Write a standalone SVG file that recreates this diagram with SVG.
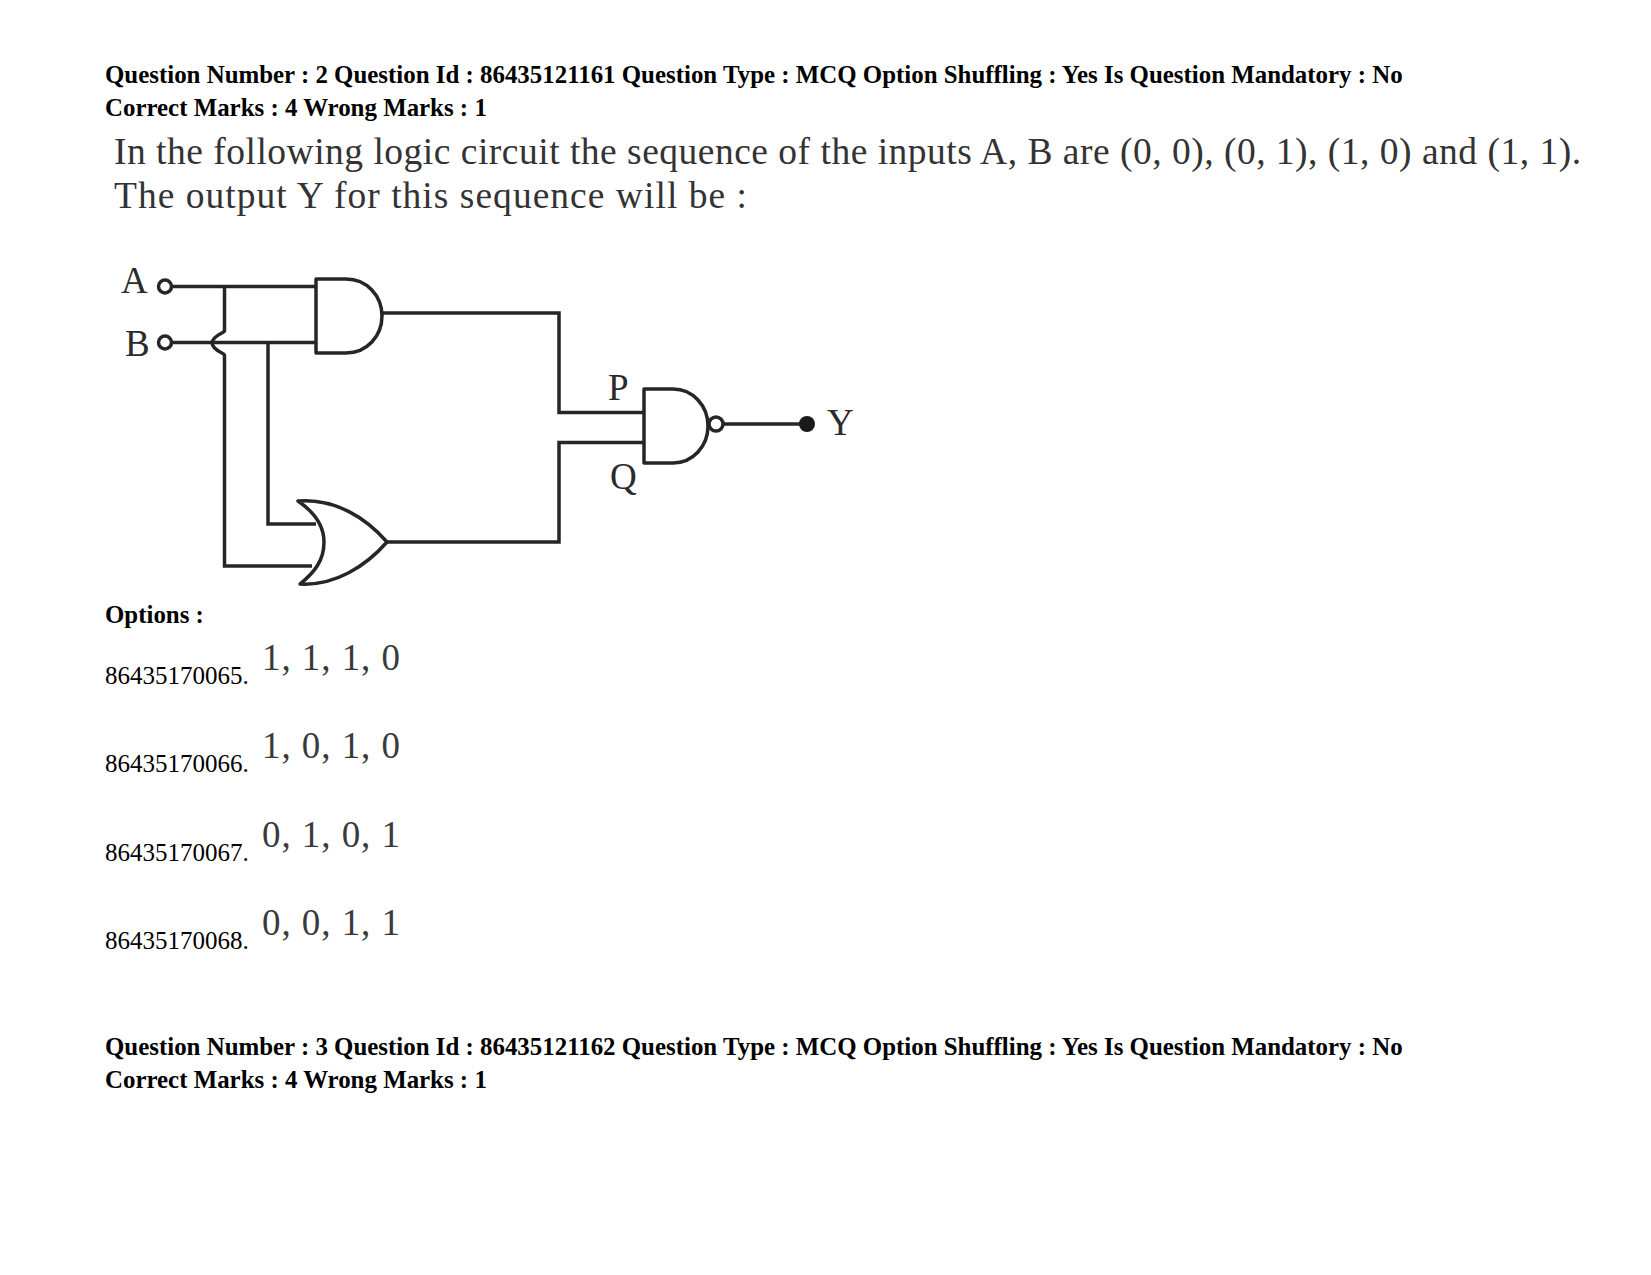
<svg xmlns="http://www.w3.org/2000/svg" width="1651" height="1275" viewBox="0 0 1651 1275">
<style>
text{font-family:"Liberation Serif","Times New Roman",serif}
.h{font-size:24.9px;font-weight:bold;fill:#000}
.o{font-size:25px;fill:#000}
.q{font-size:37.5px;fill:#333}
.v{font-size:37px;fill:#3a3a3a}
.l{font-size:37px;fill:#2b2b2b}
.w{fill:none;stroke:#262626;stroke-width:3.5}
.b{fill:#fff;stroke:#262626;stroke-width:3.5;stroke-linejoin:round}
</style>
<rect width="1651" height="1275" fill="#fff"/>
<g id="question-2">
<text class="h" x="105" y="82.500">Question Number : 2 Question Id : 86435121161 Question Type : MCQ Option Shuffling : Yes Is Question Mandatory : No</text>
<text class="h" x="105" y="116">Correct Marks : 4 Wrong Marks : 1</text>
<text class="q" x="114" y="164" textLength="1467">In the following logic circuit the sequence of the inputs A, B are (0, 0), (0, 1), (1, 0) and (1, 1).</text>
<text class="q" x="114" y="208" textLength="633">The output Y for this sequence will be :</text>
</g>
<g id="connectors">
<path class="w" d="M172 286.500H316"/>
<path class="w" d="M172 342.500H316"/>
<path class="w" d="M224.500 286.500V331C224.500 333 213 335 212 343C213 351 224.500 353 224.500 355V566H312"/>
<path class="w" d="M268 343V524H316"/>
<path class="w" d="M383 313H559V412.500H644"/>
<path class="w" d="M387 542H559V442.500H644"/>
<path class="w" d="M723 424H800"/>
</g>
<g id="input-a"><circle class="b" cx="165" cy="286.500" r="6.500"/><text class="l" x="121" y="293">A</text></g>
<g id="input-b"><circle class="b" cx="165" cy="342.500" r="6.500"/><text class="l" x="125" y="356">B</text></g>
<g id="and-gate"><path class="b" d="M316 279H346C367 279 382 296 382 316C382 336 367 353 346 353H316Z"/></g>
<g id="or-gate"><path class="b" d="M298 501C335 498 366 518 387 542C366 566 335 586 300 584C315 572 324 560 324 542C324 526 314 512 298 501Z"/></g>
<g id="nand-gate"><path class="b" d="M644 389H673C693 389 708 406 708 426C708 446 693 463 673 463H644Z"/><circle class="b" cx="716" cy="424" r="7"/></g>
<g id="output-y"><circle cx="807" cy="424" r="8" fill="#1a1a1a"/><text class="l" x="827" y="435">Y</text></g>
<g id="label-p"><text class="l" x="608" y="400">P</text></g>
<g id="label-q"><text class="l" x="610" y="489">Q</text></g>
<g id="options">
<text class="h" x="105" y="622.500">Options :</text>
<text class="o" x="105" y="683.500">86435170065.</text><text class="v" x="262" y="670" textLength="138">1, 1, 1, 0</text>
<text class="o" x="105" y="771.500">86435170066.</text><text class="v" x="262" y="758" textLength="138">1, 0, 1, 0</text>
<text class="o" x="105" y="860.500">86435170067.</text><text class="v" x="262" y="847" textLength="138">0, 1, 0, 1</text>
<text class="o" x="105" y="948.500">86435170068.</text><text class="v" x="262" y="935" textLength="138">0, 0, 1, 1</text>
</g>
<g id="question-3">
<text class="h" x="105" y="1054.500">Question Number : 3 Question Id : 86435121162 Question Type : MCQ Option Shuffling : Yes Is Question Mandatory : No</text>
<text class="h" x="105" y="1088">Correct Marks : 4 Wrong Marks : 1</text>
</g>
</svg>
